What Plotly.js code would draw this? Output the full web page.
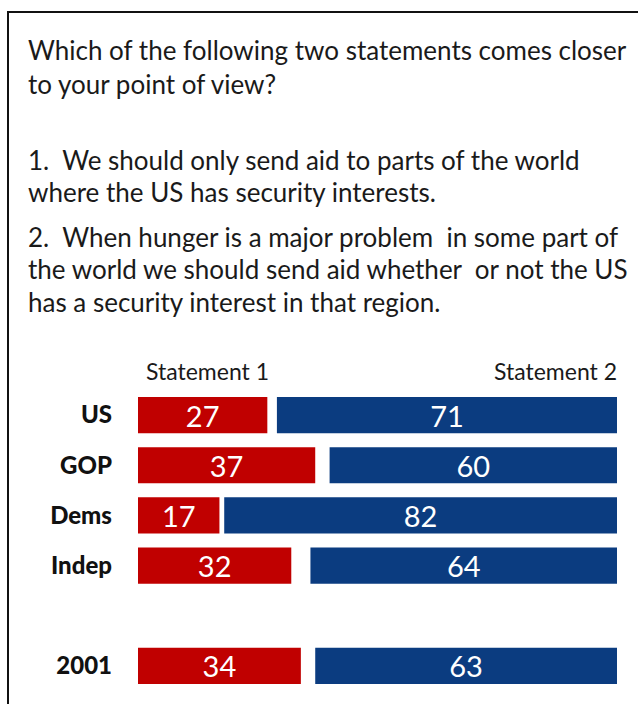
<!DOCTYPE html>
<html>
<head>
<meta charset="utf-8">
<script src="https://cdn.plot.ly/plotly-3.0.1.min.js"></script>
<style>
html,body{margin:0;padding:0;background:#fff;}
#chart{width:638px;height:704px;}
</style>
</head>
<body>
<div id="chart"></div>
<script>
// ---- data ----
var groups = ["US", "GOP", "Dems", "Indep", "2001"];
var statement1 = [27, 37, 17, 32, 34];
var statement2 = [71, 60, 82, 64, 63];
var categoryOrder = ["US", "GOP", "Dems", "Indep", " ", "2001"];
var questionLines = [
  "Which of the following two statements comes closer",
  "to your point of view?"
];
var statementLines = [
  "1.  We should only send aid to parts of the world",
  "where the US has security interests.",
  "2.  When hunger is a major problem  in some part of",
  "the world we should send aid whether  or not the US",
  "has a security interest in that region."
];
var seriesNames = ["Statement 1", "Statement 2"];

// ---- layout geometry (pixels) ----
var W = 638, H = 704;
var L = 138, R = 617, T = 390, B = 691;
function px(x){ return (x - L) / (R - L); }
function py(y){ return (B - y) / (B - T); }

var FONT = "Lato, 'Open Sans', sans-serif";
var RED = "#C00000", BLUE = "#0B3C80";

var traces = [
  {
    type: "bar", orientation: "h",
    y: groups, x: statement1, base: 0,
    marker: {color: RED},
    width: 0.72,
    text: statement1.map(String),
    textposition: "inside", insidetextanchor: "middle", textangle: 0,
    textfont: {color: "#ffffff", size: 29, family: FONT},
    constraintext: "none",
    hoverinfo: "skip", name: seriesNames[0]
  },
  {
    type: "bar", orientation: "h",
    y: groups, x: statement2, base: statement2.map(function(v){ return 100 - v; }),
    marker: {color: BLUE},
    width: 0.72,
    text: statement2.map(String),
    textposition: "inside", insidetextanchor: "middle", textangle: 0,
    textfont: {color: "#ffffff", size: 29, family: FONT},
    constraintext: "none",
    hoverinfo: "skip", name: seriesNames[1]
  }
];

var annotations = [];
var qY = [50, 84];
questionLines.forEach(function(t, i){
  annotations.push({text: t, xref: "paper", yref: "paper", x: px(26), y: py(qY[i]),
    xanchor: "left", yanchor: "middle", showarrow: false,
    font: {family: FONT, size: 26, color: "#1a1a1a"}});
});
var sY = [160, 192, 237, 269, 302];
statementLines.forEach(function(t, i){
  annotations.push({text: t, xref: "paper", yref: "paper", x: px(26), y: py(sY[i]),
    xanchor: "left", yanchor: "middle", showarrow: false,
    font: {family: FONT, size: 26, color: "#1a1a1a"}});
});
annotations.push({text: seriesNames[0], xref: "paper", yref: "paper", x: px(144), y: py(371),
  xanchor: "left", yanchor: "middle", showarrow: false,
  font: {family: FONT, size: 23, color: "#1a1a1a"}});
annotations.push({text: seriesNames[1], xref: "paper", yref: "paper", x: px(619), y: py(371),
  xanchor: "right", yanchor: "middle", showarrow: false,
  font: {family: FONT, size: 23, color: "#1a1a1a"}});

var layout = {
  width: W, height: H,
  margin: {l: L, r: W - R, t: T, b: H - B, pad: 0},
  paper_bgcolor: "#ffffff", plot_bgcolor: "#ffffff",
  barmode: "overlay",
  showlegend: false,
  xaxis: {range: [0, 100], visible: false, fixedrange: true},
  yaxis: {
    type: "category", categoryorder: "array", categoryarray: categoryOrder,
    range: [5.5, -0.5], showgrid: false, zeroline: false, showline: false,
    ticks: "", ticklabelstandoff: 25,
    tickfont: {family: FONT, size: 24, color: "#111111", weight: 900},
    fixedrange: true
  },
  annotations: annotations,
  shapes: [{
    type: "rect", xref: "paper", yref: "paper",
    x0: px(8), x1: px(W + 10), y0: py(H + 10), y1: py(12),
    line: {color: "#111111", width: 2}, fillcolor: "rgba(0,0,0,0)", layer: "below"
  }]
};

Plotly.newPlot("chart", traces, layout, {displayModeBar: false, staticPlot: true});
</script>
</body>
</html>
